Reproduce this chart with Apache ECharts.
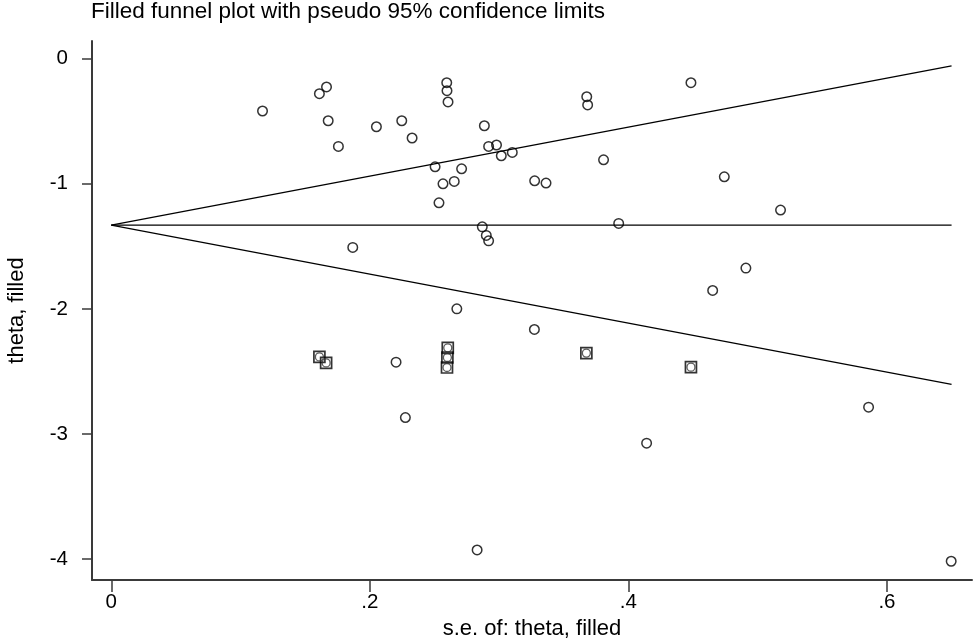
<!doctype html>
<html>
<head>
  <meta charset="UTF-8" />
  <title>Filled funnel plot</title>
  <script src="https://cdn.jsdelivr.net/npm/echarts@6/dist/echarts.min.js"></script>
  <style>
    html, body { margin: 0; padding: 0; background: #fff; }
    #chart { width: 976px; height: 641px; }
  </style>
</head>
<body>
  <div id="chart"></div>
  <script>
    // observed studies (s.e., theta)
    const studySe = [0.117, 0.161, 0.1665, 0.1678, 0.1757, 0.1868, 0.2051, 0.2203, 0.2247, 0.2275,
      0.2327, 0.2505, 0.2535, 0.2566, 0.2595, 0.2597, 0.2605, 0.2653, 0.2673, 0.271,
      0.283, 0.287, 0.2886, 0.2901, 0.2919, 0.2919, 0.298, 0.3017, 0.3102, 0.3273,
      0.3275, 0.3363, 0.3678, 0.3685, 0.3808, 0.3925, 0.4141, 0.4484, 0.4652, 0.4742,
      0.4909, 0.5177, 0.5858, 0.6497];
    const studyTheta = [-0.418, -0.28, -0.226, -0.496, -0.701, -1.509, -0.544, -2.426, -0.496, -2.869,
      -0.634, -0.864, -1.152, -1.0, -0.192, -0.256, -0.346, -0.981, -2.0, -0.88,
      -3.928, -1.344, -0.536, -1.413, -1.456, -0.701, -0.69, -0.776, -0.749, -2.165,
      -0.976, -0.994, -0.304, -0.37, -0.808, -1.317, -3.074, -0.192, -1.853, -0.944,
      -1.674, -1.21, -2.786, -4.018];

    // filled (imputed) studies
    const filledSe = [0.161, 0.1662, 0.2603, 0.26, 0.2597, 0.3675, 0.4484];
    const filledTheta = [-2.384, -2.432, -2.312, -2.389, -2.469, -2.354, -2.466];

    // pseudo 95% limits and pooled estimate
    const limitSe = [0, 0.65];
    const upperLimit = [-1.33, -0.057];
    const lowerLimit = [-1.33, -2.603];
    const pooled = [-1.33, -1.33];

    const xTicks = [0, 0.2, 0.4, 0.6];
    const yTicks = [-4, -3, -2, -1, 0];

    const pairs = (xs, ys) => xs.map((x, i) => [x, ys[i]]);
    const font = "'Liberation Sans', Arial, Helvetica, sans-serif";
    const axisColor = '#3a3a3a';

    const lineSeries = (ys) => ({
      type: 'line', data: pairs(limitSe, ys), symbol: 'none', silent: true,
      lineStyle: { color: '#000', width: 1.3 }, z: 2
    });

    const chart = echarts.init(document.getElementById('chart'));
    chart.setOption({
      animation: false,
      backgroundColor: '#fff',
      title: {
        text: 'Filled funnel plot with pseudo 95% confidence limits',
        left: 91, top: 0, padding: 0,
        textStyle: { fontFamily: font, fontSize: 22.5, fontWeight: 'normal', color: '#000' }
      },
      grid: { left: 92, right: 4, top: 41, bottom: 61, containLabel: false, outerBoundsMode: 'none' },
      xAxis: {
        type: 'value', min: -0.0149, max: 0.6658,
        name: 's.e. of: theta, filled', nameLocation: 'middle', nameGap: 33,
        nameTextStyle: { fontFamily: font, fontSize: 22, color: '#000' },
        axisLine: { show: true, onZero: false, lineStyle: { color: axisColor, width: 2 } },
        axisTick: { show: true, length: 12, customValues: xTicks, lineStyle: { color: axisColor, width: 1.5 } },
        axisLabel: {
          customValues: xTicks, margin: 12, fontFamily: font, fontSize: 20.5, color: '#000',
          formatter: v => v === 0 ? '0' : String(+v.toFixed(2)).replace(/^(-?)0\./, '$1.')
        },
        splitLine: { show: false }
      },
      yAxis: {
        type: 'value', min: -4.168, max: 0.1416,
        name: 'theta, filled', nameLocation: 'middle', nameGap: 64,
        nameTextStyle: { fontFamily: font, fontSize: 22, color: '#000' },
        axisLine: { show: true, onZero: false, lineStyle: { color: axisColor, width: 2 } },
        axisTick: { show: true, length: 10, customValues: yTicks, lineStyle: { color: axisColor, width: 1.5 } },
        axisLabel: { customValues: yTicks, margin: 24, fontFamily: font, fontSize: 20.5, color: '#000' },
        splitLine: { show: false }
      },
      series: [
        lineSeries(upperLimit),
        lineSeries(lowerLimit),
        lineSeries(pooled),
        {
          type: 'scatter', data: pairs(studySe, studyTheta), symbol: 'circle', symbolSize: 9.5,
          itemStyle: { color: 'rgba(0,0,0,0)', borderColor: '#000', borderWidth: 1.5 }, z: 3
        },
        {
          type: 'scatter', data: pairs(filledSe, filledTheta), symbol: 'rect', symbolSize: 11,
          itemStyle: { color: 'rgba(0,0,0,0)', borderColor: '#000', borderWidth: 1.7 }, z: 3
        },
        {
          type: 'scatter', data: pairs(filledSe, filledTheta), symbol: 'circle', symbolSize: 8,
          itemStyle: { color: 'rgba(0,0,0,0)', borderColor: '#333', borderWidth: 1.3 }, z: 4
        }
      ]
    });
  </script>
</body>
</html>
